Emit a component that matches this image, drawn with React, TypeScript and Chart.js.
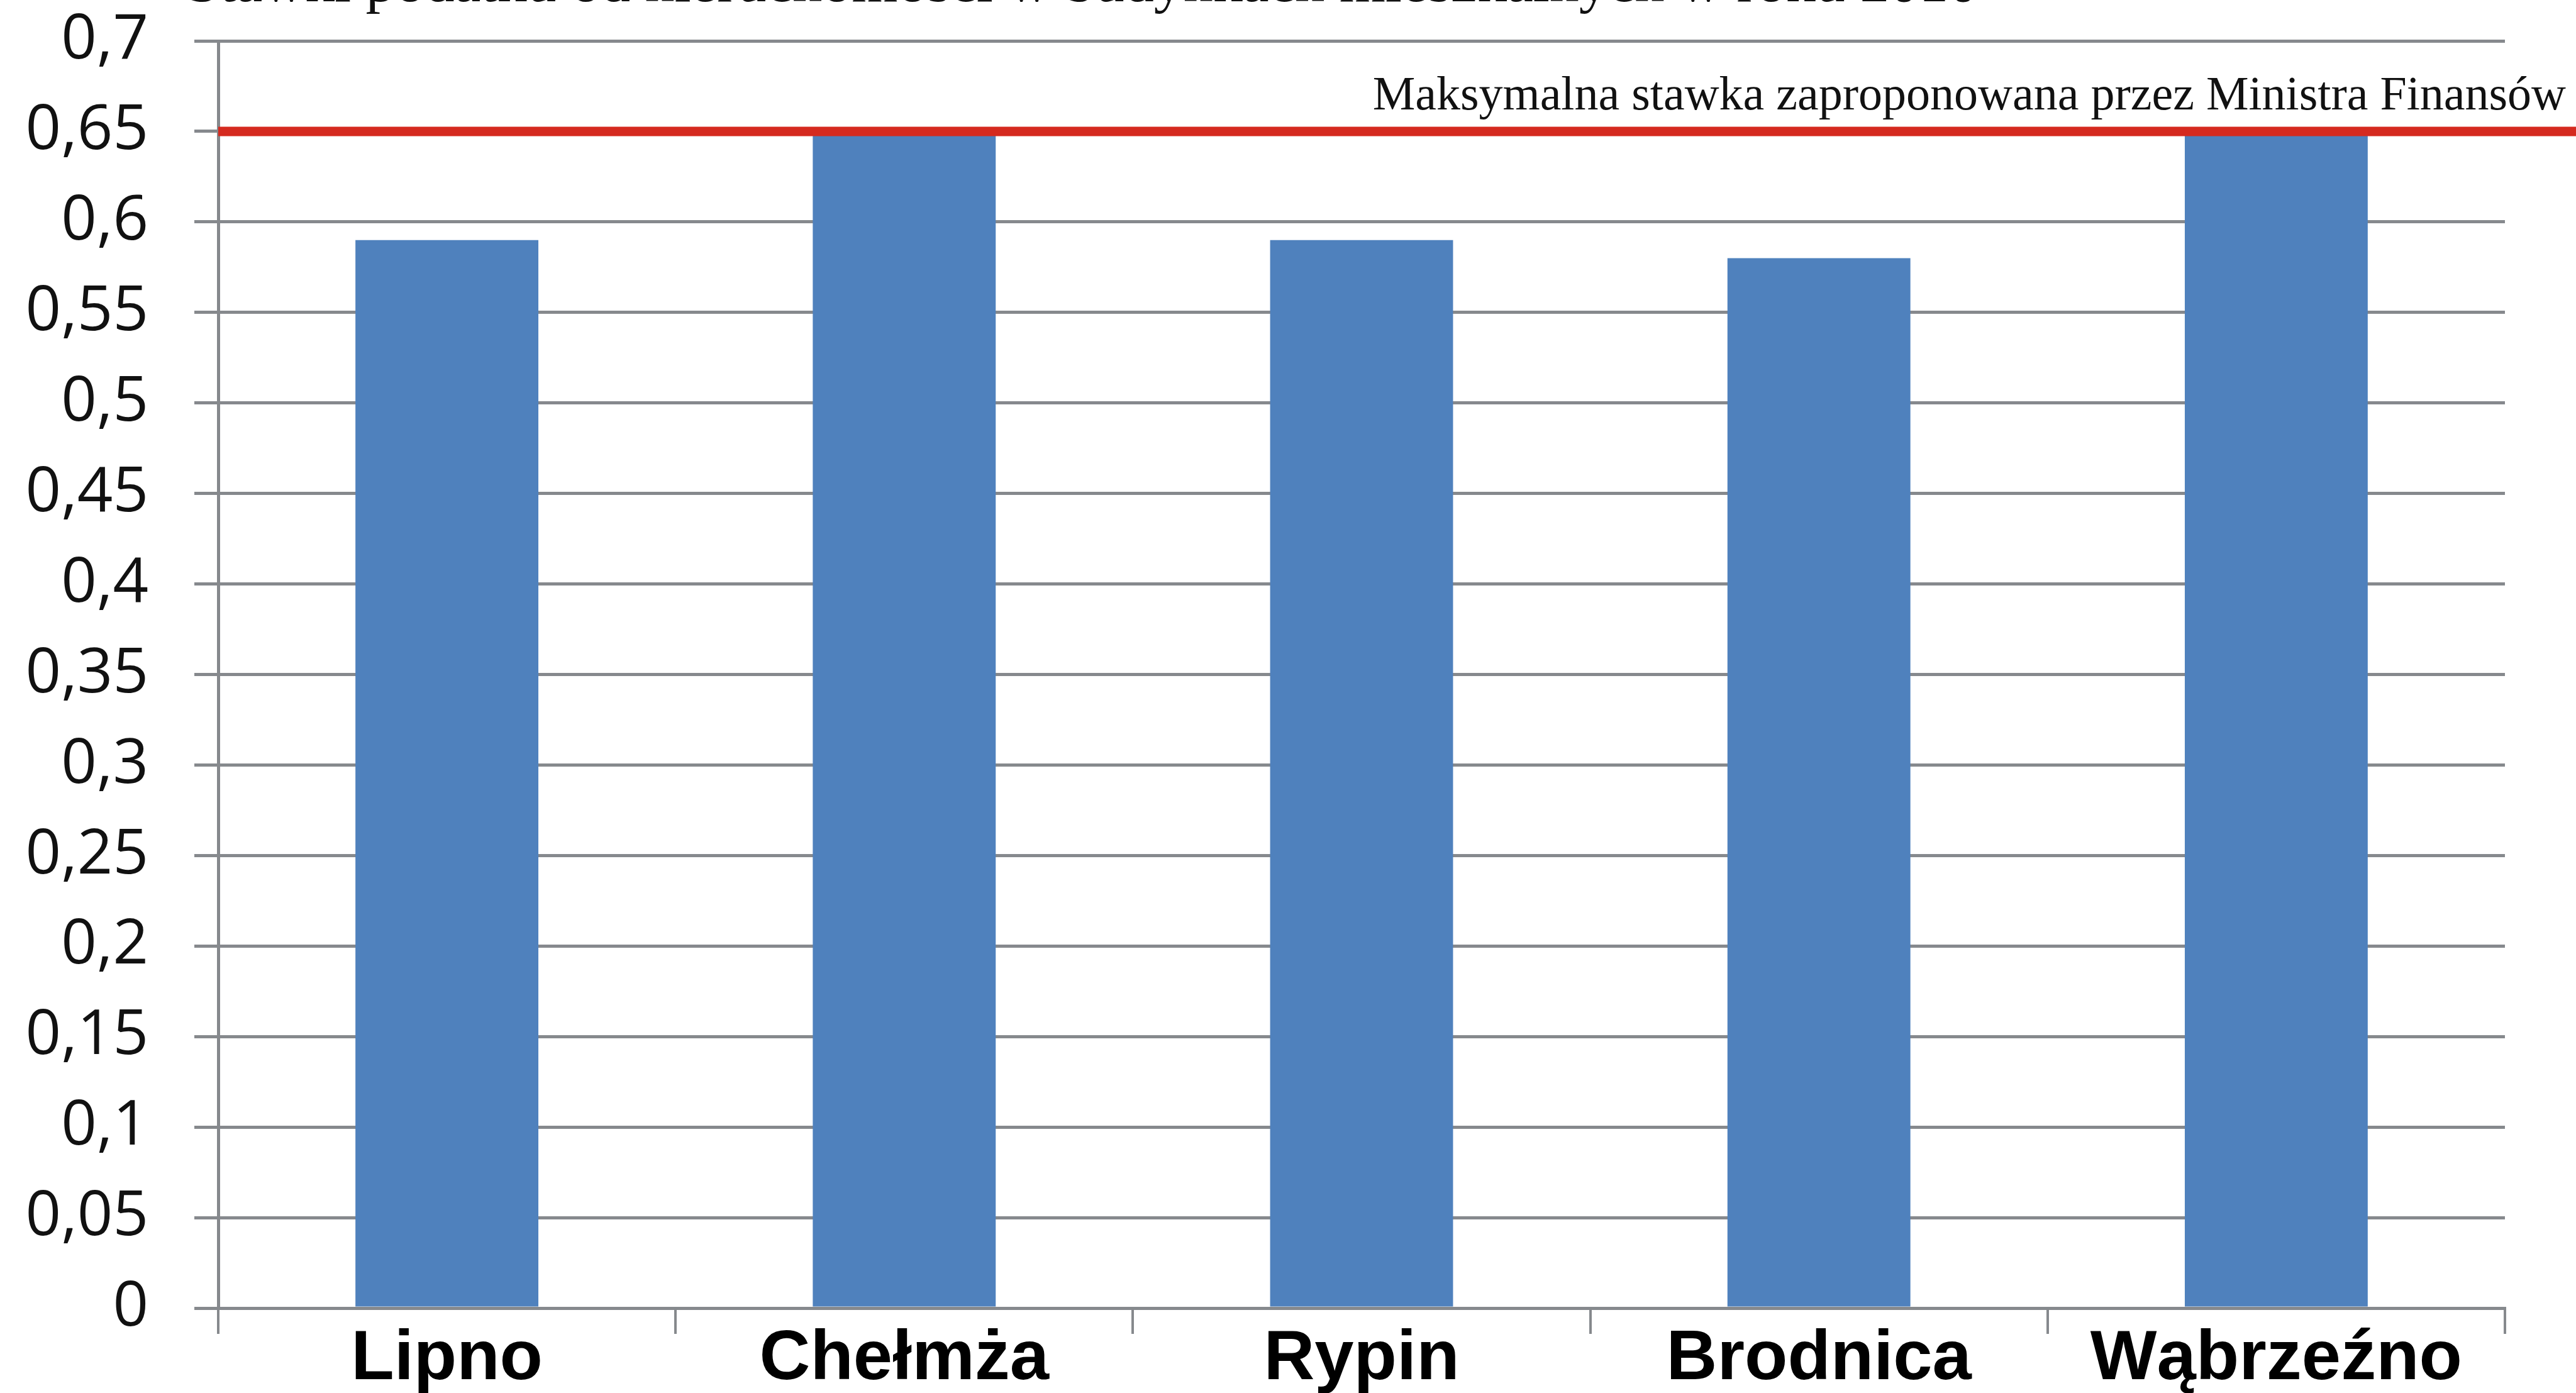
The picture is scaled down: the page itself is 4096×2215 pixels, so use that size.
import React, { useEffect, useRef } from "react";
import { Chart, registerables } from "chart.js";

Chart.register(...registerables);

// ---- data ----
const TITLE = "Stawki podatku od nieruchomości w budynkach mieszkalnych w roku 2010";
const categories = ["Lipno", "Chełmża", "Rypin", "Brodnica", "Wąbrzeźno"];
const rates = [0.59, 0.65, 0.59, 0.58, 0.65];
const maxRate = 0.65;
const maxRateLabel = "Maksymalna stawka zaproponowana przez Ministra Finansów";
const yMin = 0;
const yMax = 0.7;
const yStep = 0.05;

const W = 4096;
const H = 2215;
const GRID = "#86898d";

const fmt = (v: number) => String(Number(Number(v).toFixed(2))).replace(".", ",");

const overlayPlugin = {
  id: "overlay",
  afterDatasetsDraw(chart: any) {
    const { ctx, chartArea, scales } = chart;
    const y = scales.y.getPixelForValue(maxRate);
    ctx.save();
    // red max-rate line
    ctx.strokeStyle = "#d52a1f";
    ctx.lineWidth = 15;
    ctx.beginPath();
    ctx.moveTo(chartArea.left, y);
    ctx.lineTo(chart.width, y);
    ctx.stroke();
    // label above it
    ctx.fillStyle = "#111111";
    ctx.font = '76px "Liberation Serif", "Times New Roman", serif';
    ctx.textAlign = "right";
    ctx.textBaseline = "alphabetic";
    ctx.fillText(maxRateLabel, chart.width - 16, y - 35);
    // title, cut off at the top edge
    ctx.textAlign = "left";
    ctx.font = '94px "Liberation Serif", "Times New Roman", serif';
    ctx.fillStyle = "#111111";
    ctx.fillText(TITLE, 297, 2);
    ctx.restore();
  },
};

export default function App() {
  const ref = useRef<HTMLCanvasElement | null>(null);

  useEffect(() => {
    if (!ref.current) return;
    const chart = new Chart(ref.current, {
      type: "bar",
      data: {
        labels: categories,
        datasets: [
          {
            data: rates,
            backgroundColor: "#4f81bd",
            borderWidth: 0,
            barPercentage: 0.4,
            categoryPercentage: 1.0,
          },
        ],
      },
      options: {
        responsive: false,
        animation: false,
        devicePixelRatio: 1,
        layout: { padding: { left: 0, top: 65, right: 113, bottom: 0 } },
        plugins: {
          legend: { display: false },
          tooltip: { enabled: false },
          title: { display: false },
        },
        scales: {
          x: {
            afterFit: (s: any) => {
              s.height = 135;
              s.paddingLeft = 0;
              s.paddingRight = 0;
              s.paddingTop = 0;
              s.paddingBottom = 0;
            },
            grid: {
              display: true,
              drawOnChartArea: false,
              drawTicks: true,
              tickLength: 41,
              color: GRID,
              lineWidth: 4,
              offset: true,
            },
            border: { display: true, color: GRID, width: 5 },
            ticks: {
              autoSkip: false,
              maxRotation: 0,
              minRotation: 0,
              color: "#000000",
              padding: -15,
              font: { family: '"Liberation Sans", Arial, sans-serif', size: 112, weight: "bold", lineHeight: 1 },
            },
          },
          y: {
            min: yMin,
            max: yMax,
            afterFit: (s: any) => {
              s.width = 347;
              s.paddingTop = 0;
              s.paddingBottom = 0;
              s.paddingLeft = 0;
              s.paddingRight = 0;
            },
            grid: {
              display: true,
              drawOnChartArea: true,
              drawTicks: true,
              tickLength: 38,
              color: GRID,
              lineWidth: 5,
            },
            border: { display: true, color: GRID, width: 5 },
            ticks: {
              stepSize: yStep,
              autoSkip: false,
              color: "#111111",
              padding: 73,
              font: { family: '"Open Sans", sans-serif', size: 99 },
              callback: (v: any) => fmt(v),
            },
          },
        },
      },
      plugins: [overlayPlugin],
    });
    return () => chart.destroy();
  }, []);

  return (
    <div style={{ position: "absolute", left: 0, top: 0, width: W, height: H, background: "#ffffff" }}>
      <canvas ref={ref} width={W} height={H} style={{ display: "block" }} />
    </div>
  );
}
